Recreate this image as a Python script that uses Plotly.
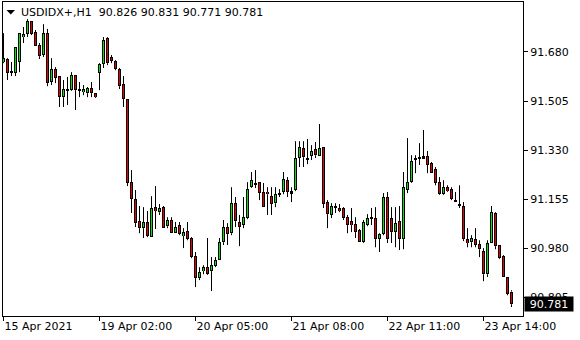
import plotly.graph_objects as go

# Hourly candles (index 0..127)
open_ = [91.644, 91.655, 91.608, 91.605, 91.644, 91.733, 91.744, 91.790, 91.751, 91.705,
         91.669, 91.747, 91.573, 91.619, 91.594, 91.519, 91.541, 91.544, 91.598, 91.548,
         91.537, 91.533, 91.551, 91.533, 91.605, 91.637, 91.730, 91.662, 91.648, 91.619,
         91.566, 91.512, 91.216, 91.156, 91.077, 91.052, 91.074, 91.020, 91.127, 91.109,
         91.127, 91.059, 91.081, 91.034, 91.063, 91.024, 91.042, 91.017, 90.952, 90.874,
         90.899, 90.913, 90.899, 90.917, 90.938, 91.002, 91.056, 91.034, 91.141, 91.074,
         91.063, 91.088, 91.198, 91.209, 91.216, 91.181, 91.181, 91.166, 91.141, 91.173,
         91.181, 91.223, 91.184, 91.188, 91.302, 91.337, 91.298, 91.309, 91.334, 91.309,
         91.341, 91.145, 91.099, 91.127, 91.124, 91.124, 91.091, 91.077, 91.066, 91.045,
         91.002, 91.063, 91.088, 91.088, 91.013, 91.031, 91.163, 91.088, 91.038, 91.077,
         91.013, 91.188, 91.216, 91.295, 91.302, 91.309, 91.309, 91.284, 91.262, 91.216,
         91.173, 91.198, 91.191, 91.152, 91.138, 91.131, 91.013, 91.002, 91.013, 90.995,
         90.970, 90.888, 90.999, 91.106, 90.992, 90.952, 90.878, 90.826]
high = [91.747, 91.658, 91.644, 91.697, 91.747, 91.769, 91.797, 91.790, 91.758, 91.712,
        91.779, 91.762, 91.658, 91.626, 91.594, 91.580, 91.591, 91.608, 91.598, 91.573,
        91.562, 91.555, 91.573, 91.533, 91.640, 91.733, 91.733, 91.669, 91.651, 91.623,
        91.594, 91.512, 91.259, 91.188, 91.131, 91.127, 91.113, 91.166, 91.202, 91.138,
        91.131, 91.091, 91.091, 91.074, 91.074, 91.052, 91.074, 91.020, 90.967, 90.913,
        90.920, 91.017, 90.949, 90.949, 91.017, 91.081, 91.070, 91.198, 91.163, 91.099,
        91.163, 91.216, 91.252, 91.259, 91.216, 91.213, 91.198, 91.198, 91.198, 91.191,
        91.252, 91.234, 91.198, 91.362, 91.362, 91.362, 91.370, 91.348, 91.359, 91.423,
        91.341, 91.152, 91.141, 91.141, 91.138, 91.127, 91.099, 91.124, 91.091, 91.049,
        91.081, 91.102, 91.124, 91.127, 91.034, 91.177, 91.181, 91.127, 91.127, 91.131,
        91.252, 91.373, 91.312, 91.312, 91.355, 91.402, 91.327, 91.288, 91.270, 91.234,
        91.223, 91.205, 91.198, 91.181, 91.205, 91.145, 91.052, 91.027, 91.052, 91.009,
        90.981, 91.009, 91.131, 91.109, 90.992, 90.956, 90.878, 90.831]
low = [91.640, 91.580, 91.594, 91.594, 91.608, 91.712, 91.733, 91.740, 91.701, 91.655,
       91.662, 91.558, 91.562, 91.569, 91.484, 91.484, 91.491, 91.541, 91.473, 91.519,
       91.526, 91.519, 91.519, 91.516, 91.544, 91.623, 91.633, 91.640, 91.615, 91.548,
       91.484, 91.202, 91.106, 91.056, 91.034, 91.017, 91.020, 91.020, 91.049, 91.099,
       91.052, 91.052, 91.034, 91.034, 91.027, 90.981, 91.009, 90.945, 90.842, 90.867,
       90.888, 90.885, 90.828, 90.913, 90.938, 90.992, 90.992, 91.027, 91.056, 90.988,
       91.052, 91.084, 91.195, 91.195, 91.152, 91.127, 91.099, 91.099, 91.127, 91.163,
       91.173, 91.163, 91.145, 91.184, 91.270, 91.270, 91.280, 91.295, 91.302, 91.309,
       91.124, 91.052, 91.088, 91.106, 91.109, 91.081, 91.034, 91.038, 91.017, 91.002,
       90.999, 91.059, 91.063, 90.984, 90.967, 91.027, 90.999, 90.999, 90.984, 90.974,
       90.977, 91.177, 91.213, 91.248, 91.277, 91.302, 91.248, 91.248, 91.205, 91.170,
       91.170, 91.181, 91.152, 91.145, 91.124, 91.006, 90.984, 90.984, 90.984, 90.949,
       90.863, 90.878, 90.999, 90.977, 90.942, 90.878, 90.813, 90.771]
close = [91.658, 91.605, 91.605, 91.697, 91.747, 91.744, 91.790, 91.744, 91.701, 91.665,
         91.747, 91.569, 91.619, 91.587, 91.519, 91.548, 91.548, 91.598, 91.544, 91.541,
         91.548, 91.551, 91.533, 91.519, 91.637, 91.722, 91.640, 91.648, 91.619, 91.558,
         91.512, 91.213, 91.156, 91.070, 91.052, 91.074, 91.024, 91.124, 91.113, 91.124,
         91.052, 91.081, 91.034, 91.056, 91.031, 91.038, 91.013, 90.949, 90.874, 90.895,
         90.913, 90.888, 90.920, 90.938, 91.002, 91.056, 91.031, 91.141, 91.077, 91.056,
         91.091, 91.191, 91.223, 91.213, 91.177, 91.127, 91.173, 91.138, 91.173, 91.177,
         91.227, 91.181, 91.177, 91.302, 91.341, 91.305, 91.302, 91.327, 91.312, 91.337,
         91.138, 91.102, 91.131, 91.124, 91.113, 91.088, 91.063, 91.063, 91.038, 91.002,
         91.074, 91.088, 91.091, 91.013, 91.031, 91.163, 91.013, 91.038, 91.070, 91.013,
         91.198, 91.216, 91.291, 91.302, 91.305, 91.302, 91.277, 91.248, 91.213, 91.173,
         91.198, 91.184, 91.156, 91.148, 91.134, 91.013, 90.999, 91.017, 90.992, 90.977,
         90.888, 90.999, 91.109, 90.988, 90.945, 90.878, 90.817, 90.781]

time_tick_pos = [0, 24, 48, 72, 96, 120]
time_tick_text = ["15 Apr 2021", "19 Apr 02:00", "20 Apr 05:00", "21 Apr 08:00",
                  "22 Apr 11:00", "23 Apr 14:00"]
price_ticks = [90.805, 90.980, 91.155, 91.330, 91.505, 91.680]
price_tick_text = ["90.805", "90.980", "91.155", "91.330", "91.505", "91.680"]
symbol_title = "USDIDX+,H1"
last_price = 90.781

UP_COLOR = "#00E800"
DOWN_COLOR = "#E80000"
FONT = "DejaVu Sans"

Y_RANGE = [90.739, 91.858]
PLOT_H = 314  # plot area height in px
px = (Y_RANGE[1] - Y_RANGE[0]) / PLOT_H  # one pixel in price units (outline size)

idx = list(range(len(close)))
body_lo = [min(o, c) for o, c in zip(open_, close)]
body_hi = [max(o, c) for o, c in zip(open_, close)]
body_h = [h - l for h, l in zip(body_hi, body_lo)]
body_col = [UP_COLOR if c > o else DOWN_COLOR for o, c in zip(open_, close)]
core_h = [max(h - 2 * px, 0) for h in body_h]
core_lo = [l + px for l in body_lo]

# wicks: high -> body top, body bottom -> low
wx, wy = [], []
for i in idx:
    wx += [i, i, None, i, i, None]
    wy += [high[i], body_hi[i], None, body_lo[i], low[i], None]

fig = go.Figure()
fig.add_trace(go.Scatter(x=wx, y=wy, mode="lines", line=dict(color="black", width=1),
                         showlegend=False, hoverinfo="skip"))
# black body (acts as the outline)
fig.add_trace(go.Bar(x=idx, y=[max(h, px) for h in body_h], base=body_lo, width=0.75,
                     marker=dict(color="black", line=dict(width=0)),
                     showlegend=False, hoverinfo="skip"))
# coloured core
fig.add_trace(go.Bar(x=idx, y=core_h, base=core_lo, width=0.25,
                     marker=dict(color=body_col, line=dict(width=0)),
                     showlegend=False, hoverinfo="skip"))

fig.update_layout(
    width=580, height=340,
    margin=dict(l=3, r=57, t=2, b=24),
    paper_bgcolor="white", plot_bgcolor="white",
    font=dict(family=FONT, size=11, color="black"),
    bargap=0, bargroupgap=0, barmode="overlay",
    xaxis=dict(
        range=[-0.125, 129.875],
        showgrid=False, zeroline=False,
        showline=True, linecolor="black", linewidth=1, mirror=True,
        ticks="outside", ticklen=4, tickcolor="black",
        tickvals=time_tick_pos, ticktext=time_tick_text,
        ticklabelposition="outside right",
        tickfont=dict(family=FONT, size=11, color="black"),
    ),
    yaxis=dict(
        side="right", range=Y_RANGE,
        showgrid=False, zeroline=False,
        showline=True, linecolor="black", linewidth=1, mirror=True,
        ticks="outside", ticklen=4, tickcolor="black",
        tickvals=price_ticks, ticktext=price_tick_text,
        tickfont=dict(family=FONT, size=11, color="black"),
    ),
)

header = "{}\u00a0\u00a0{:.3f} {:.3f} {:.3f} {:.3f}".format(
    symbol_title, open_[-1], high[-1], low[-1], close[-1])
fig.add_annotation(xref="paper", yref="paper", x=16 / 520, y=(316 - 13) / 314,
                   xanchor="left", yanchor="middle", showarrow=False,
                   text=header, font=dict(family=FONT, size=11, color="black"))
# dropdown triangle
fig.add_shape(type="path", xref="paper", yref="paper",
              path="M {} {} L {} {} L {} {} Z".format(
                  3.5 / 520, (316 - 10) / 314, 12 / 520, (316 - 10) / 314,
                  7.75 / 520, (316 - 14.5) / 314),
              fillcolor="black", line=dict(color="black", width=0))
# current price label
fig.add_annotation(xref="paper", yref="y", x=1, y=last_price, xanchor="left",
                   yanchor="middle", showarrow=False, text="{:.3f}".format(last_price),
                   bgcolor="black", font=dict(family=FONT, size=11, color="white"),
                   width=46, height=12, borderpad=1, xshift=1)

fig.write_html("out.html")
